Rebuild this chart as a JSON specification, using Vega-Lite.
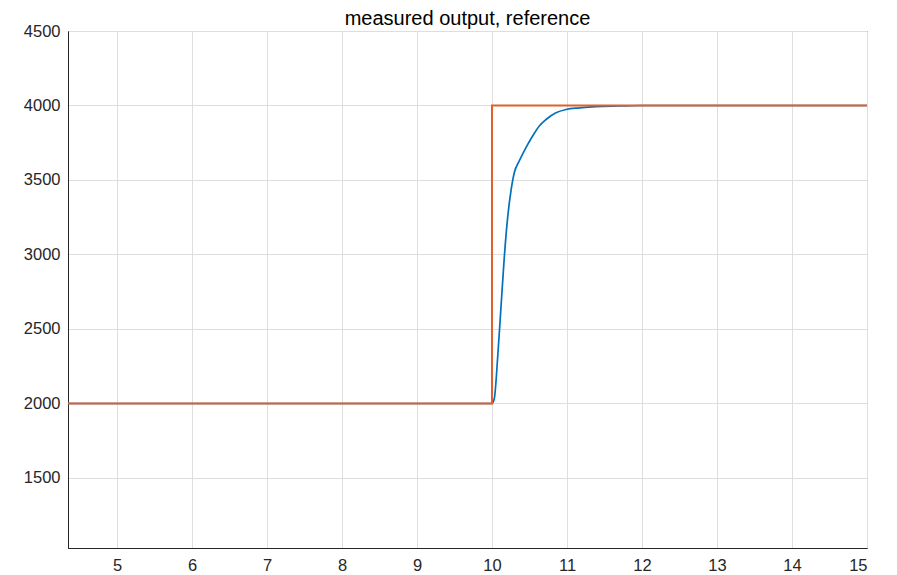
{
  "$schema": "https://vega.github.io/schema/vega-lite/v6.json",
  "width": 799,
  "height": 517,
  "autosize": {"type": "none"},
  "padding": {"left": 68, "top": 31, "right": 30, "bottom": 27},
  "background": "white",
  "config": {
    "view": {"stroke": "#262626", "strokeWidth": 1},
    "font": "Liberation Sans"
  },
  "title": {
    "text": "measured output, reference",
    "fontSize": 20,
    "fontWeight": "normal",
    "color": "#000000",
    "font": "Liberation Sans",
    "offset": -6,
    "anchor": "middle"
  },
  "datasets": {
    "measured": [
      {"t": 0, "v": 2000},
      {"t": 10, "v": 2000},
      {"t": 10.031, "v": 2033},
      {"t": 10.076, "v": 2312},
      {"t": 10.12, "v": 2647},
      {"t": 10.164, "v": 2981},
      {"t": 10.209, "v": 3249},
      {"t": 10.253, "v": 3427},
      {"t": 10.298, "v": 3550},
      {"t": 10.364, "v": 3628},
      {"t": 10.453, "v": 3717},
      {"t": 10.542, "v": 3795},
      {"t": 10.631, "v": 3862},
      {"t": 10.72, "v": 3906},
      {"t": 10.853, "v": 3951},
      {"t": 10.987, "v": 3973},
      {"t": 11.164, "v": 3984},
      {"t": 11.387, "v": 3993},
      {"t": 11.698, "v": 3997},
      {"t": 12, "v": 4000},
      {"t": 15, "v": 4000}
    ],
    "reference": [
      {"t": 0, "v": 2000},
      {"t": 10, "v": 2000},
      {"t": 10, "v": 4000},
      {"t": 15, "v": 4000}
    ]
  },
  "layer": [
    {
      "data": {"name": "measured"},
      "mark": {"type": "line", "color": "#0072BD", "strokeWidth": 1.7, "clip": true, "interpolate": "monotone"},
      "encoding": {
        "x": {
          "field": "t", "type": "quantitative",
          "scale": {"domain": [4.347, 15], "nice": false, "zero": false},
          "axis": {
            "title": null,
            "values": [5, 6, 7, 8, 9, 10, 11, 12, 13, 14, 15],
            "format": "d",
            "grid": true, "gridColor": "#dedede", "gridWidth": 1,
            "domainColor": "#262626", "tickColor": "#262626",
            "ticks": false, "labelPadding": 9,
            "labelFontSize": 16.5, "labelColor": "#262626", "labelFont": "Liberation Sans"
          }
        },
        "y": {
          "field": "v", "type": "quantitative",
          "scale": {"domain": [1030, 4500], "nice": false, "zero": false},
          "axis": {
            "title": null,
            "values": [1500, 2000, 2500, 3000, 3500, 4000, 4500],
            "format": "d",
            "grid": true, "gridColor": "#dedede", "gridWidth": 1,
            "domainColor": "#262626", "tickColor": "#262626",
            "ticks": false, "labelPadding": 8,
            "labelFontSize": 16.5, "labelColor": "#262626", "labelFont": "Liberation Sans"
          }
        }
      }
    },
    {
      "data": {"name": "reference"},
      "mark": {"type": "line", "color": "#E0602C", "strokeWidth": 2, "clip": true},
      "encoding": {
        "x": {"field": "t", "type": "quantitative"},
        "y": {"field": "v", "type": "quantitative"},
        "order": {"field": "v", "type": "quantitative"}
      }
    }
  ]
}
